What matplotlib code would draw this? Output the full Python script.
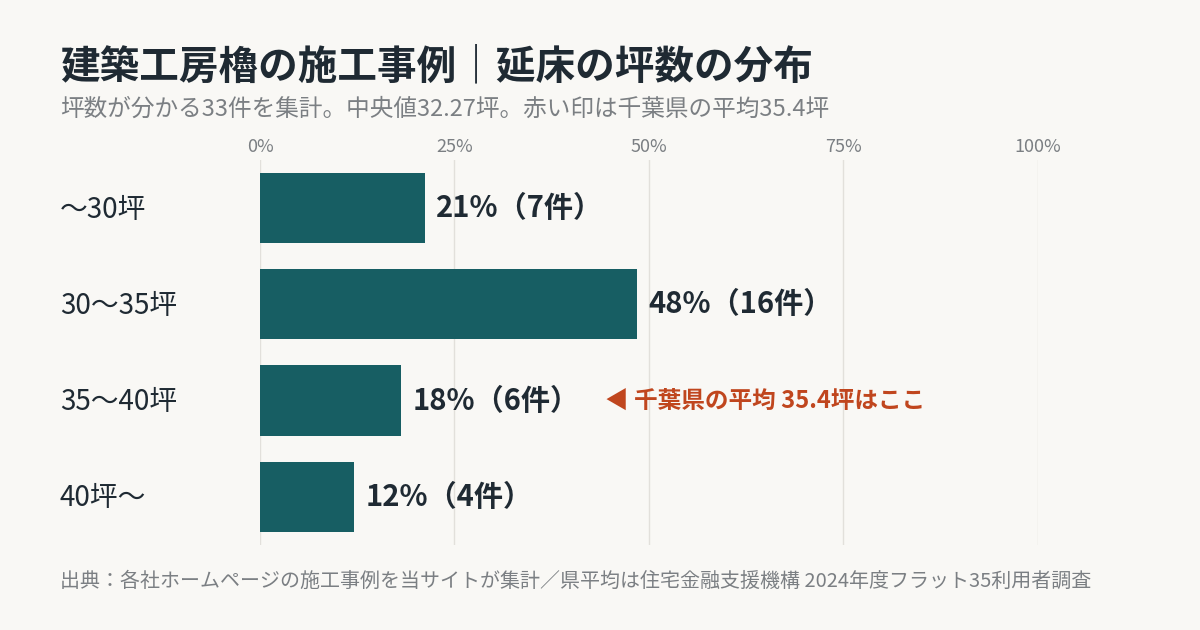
import matplotlib
matplotlib.use("Agg")
import matplotlib.pyplot as plt

plt.rcParams['font.family'] = ['Noto Sans CJK JP', 'DejaVu Sans']

categories = ["〜30坪", "30〜35坪", "35〜40坪", "40坪〜"]
counts = [7, 16, 6, 4]
total = 33
value_labels = ["21%（7件）", "48%（16件）", "18%（6件）", "12%（4件）"]
ticks = [0, 25, 50, 75, 100]
tick_labels = ["0%", "25%", "50%", "75%", "100%"]

BG = "#f9f8f5"
BAR = "#175e63"
INK = "#1f2a33"
GRAY = "#7b7f83"
RED = "#c0461e"

pct = [c / total * 100 for c in counts]

fig = plt.figure(figsize=(12, 6.3), dpi=100, facecolor=BG)
ax = fig.add_axes([0.2167, 0.135, 0.648, 0.611], facecolor=BG)

ys = list(range(len(categories)))
ax.barh(ys, pct, height=0.73, color=BAR, zorder=3)
ax.set_xlim(0, 100)
ax.set_ylim(3.5, -0.5)
ax.set_xticks(ticks)
ax.set_xticklabels(tick_labels, color=GRAY, fontsize=13)
ax.xaxis.tick_top()
ax.tick_params(axis="x", length=0, pad=3)
ax.set_yticks([])
ax.grid(axis="x", color="#e2e0db", linewidth=1, zorder=0)
ax.set_xmargin(0)
for s in ax.spines.values():
    s.set_visible(False)

for y, p, lab, cat in zip(ys, pct, value_labels, categories):
    ax.text(p + 1.4, y, lab, va="center", ha="left", fontsize=21,
            fontweight="bold", color=INK)
    yf = 1 - (210 + 96 * y) / 630
    fig.text(0.05, yf, cat, va="center", ha="left", fontsize=20, color=INK)

ax.text(44.3, 2, "◀ 千葉県の平均 35.4坪はここ", va="center", ha="left",
        fontsize=17, fontweight="bold", color=RED)

fig.text(0.05, 0.894, "建築工房櫓の施工事例｜延床の坪数の分布", fontsize=28.5,
         fontweight="bold", color=INK, va="center")
fig.text(0.05, 0.826, "坪数が分かる33件を集計。中央値32.27坪。赤い印は千葉県の平均35.4坪",
         fontsize=17, color=GRAY, va="center")
fig.text(0.05, 0.078, "出典：各社ホームページの施工事例を当サイトが集計／県平均は住宅金融支援機構 2024年度フラット35利用者調査",
         fontsize=14.4, color=GRAY, va="center")

fig.savefig("out.png", dpi=100, facecolor=BG)
